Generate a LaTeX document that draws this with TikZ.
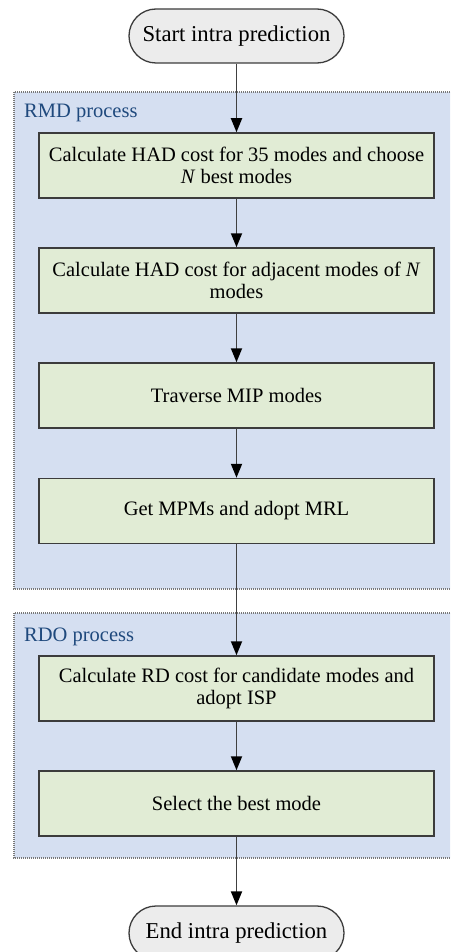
\documentclass[tikz,border=0pt]{standalone}
\usepackage{fontspec}
\setmainfont{Liberation Serif}
\usetikzlibrary{arrows.meta}

\definecolor{groupfill}{RGB}{213,223,241}
\definecolor{groupline}{RGB}{120,120,120}
\definecolor{grouptext}{RGB}{31,73,125}
\definecolor{stepfill}{RGB}{225,236,213}
\definecolor{stepline}{RGB}{60,60,60}
\definecolor{termfill}{RGB}{236,236,236}
\definecolor{flowline}{RGB}{64,64,64}

\tikzset{
  basefont/.style={font=\fontsize{20.5}{22.5}\selectfont},
  group/.style={fill=groupfill, draw=groupline, line width=1.1pt,
    dash pattern=on 1pt off 1pt},
  grouplabel/.style={basefont, text=grouptext, anchor=base west, inner sep=0pt},
  stepbox/.style={rectangle, basefont, draw=stepline, fill=stepfill,
    line width=1.5pt, minimum width=395pt, minimum height=65pt,
    align=center, inner sep=0pt},
  terminal/.style={rectangle, rounded corners=27pt,
    font=\fontsize{22.7}{25}\selectfont, draw=stepline,
    fill=termfill, line width=1.3pt, minimum width=215pt, minimum height=54pt,
    inner sep=0pt},
  flow/.style={draw=flowline, line width=1.8pt,
    -{Triangle[width=11pt,length=14pt,color=black]}},
}

\begin{document}
\begin{tikzpicture}[x=1pt,y=-1pt]
  \clip (0,0) rectangle (450,952);
  \fill[white] (0,0) rectangle (450,952);

  % process groups
  \draw[group] (14,92) rectangle (470,589);
  \draw[group] (14,613) rectangle (470,858);
  \node[grouplabel] (rmdlabel) at (24,117.5) {RMD process};
  \node[grouplabel] (rdolabel) at (24,641) {RDO process};

  % flow steps
  \node[terminal] (start) at (236.5,36) {Start intra prediction};
  \node[stepbox] (had) at (236.5,165.5)
    {Calculate HAD cost for 35 modes and choose\\ \textit{N} best modes};
  \node[stepbox] (adj) at (236.5,280.5)
    {Calculate HAD cost for adjacent modes of \textit{N}\\ modes};
  \node[stepbox] (mip) at (236.5,395.5) {Traverse MIP modes};
  \node[stepbox] (mpm) at (236.5,511) {Get MPMs and adopt MRL};
  \node[stepbox] (rd) at (236.5,688.5)
    {Calculate RD cost for candidate modes and\\ adopt ISP};
  \node[stepbox] (best) at (236.5,803.5) {Select the best mode};
  \node[terminal] (end) at (236.5,933) {End intra prediction};

  % connectors
  \draw[flow] (start) -- (had);
  \draw[flow] (had) -- (adj);
  \draw[flow] (adj) -- (mip);
  \draw[flow] (mip) -- (mpm);
  \draw[flow] (mpm) -- (rd);
  \draw[flow] (rd) -- (best);
  \draw[flow] (best) -- (end);
\end{tikzpicture}
\end{document}
